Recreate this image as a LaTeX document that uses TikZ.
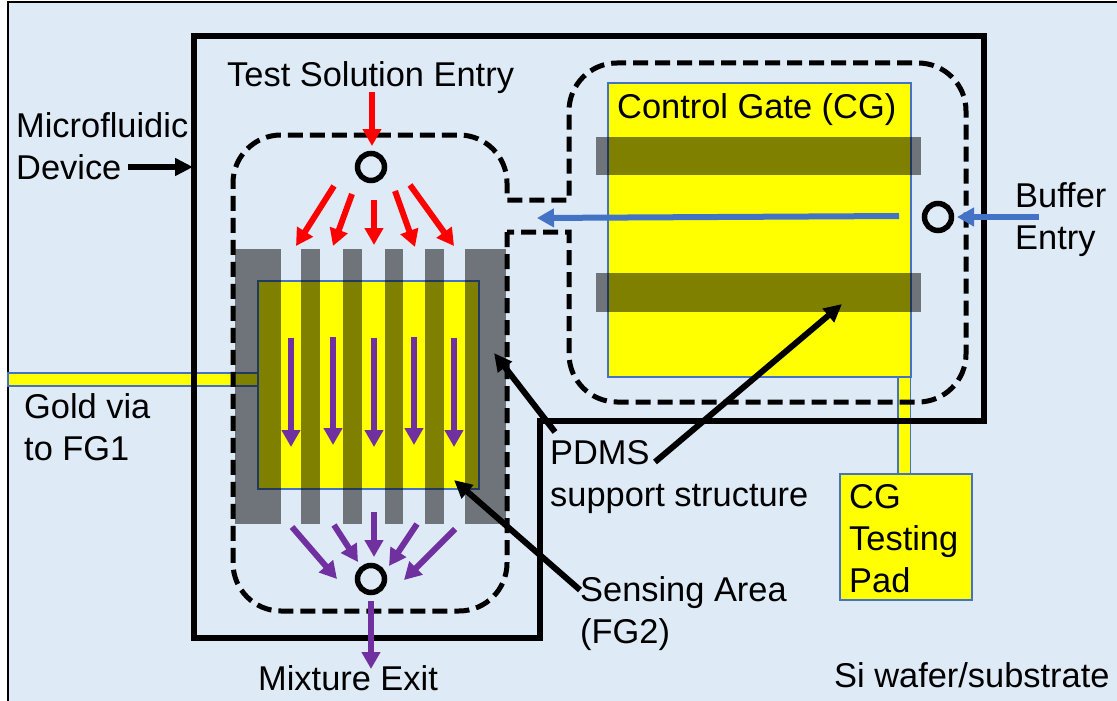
\documentclass[tikz,border=0pt]{standalone}
\usepackage{fontspec}
\setmainfont{Liberation Sans}
\usetikzlibrary{arrows.meta}
\definecolor{waferblue}{HTML}{DEEAF6}
\definecolor{edgeblue}{HTML}{4472C4}
\definecolor{flowpurple}{HTML}{7030A0}
\definecolor{goldfill}{HTML}{FFFF00}
\definecolor{redflow}{HTML}{FF0000}
\tikzset{
  label/.style = {anchor=base west, inner sep=0pt, align=left},
  gold/.style = {shape=rectangle, draw=edgeblue, line width=1.3pt, fill=goldfill,
    anchor=north west, inner sep=0pt, outer sep=0pt},
  pdms/.style = {fill=black, fill opacity=0.5},
  chamber/.style = {draw, line width=5pt, dash pattern=on 15pt off 7pt},
  port/.style = {shape=circle, draw, line width=5.5pt, minimum size=27pt, inner sep=0pt},
  flow/.style = {line width=6pt, -{Triangle[width=18pt,length=17pt]}},
  pointer/.style = {line width=6pt, black, -{Triangle[width=17pt,length=18pt]}}
}
\begin{document}
\begin{tikzpicture}[x=1pt, y=-1pt, font=\fontsize{34.4}{42}\selectfont]
    \useasboundingbox (0,0) rectangle (1117,701);
    \fill[waferblue] (8,2) rectangle (1117,701);
    \draw[line width=2.5pt] (8,701) -- (8,2) -- (1117,2);

    % gold layer
    \node[gold, minimum width=12.7pt, minimum height=103pt] (tongue) at (898,374) {};
    \node[gold, minimum width=303pt, minimum height=294pt] (cg) at (608,83) {};
    \node[gold, minimum width=250pt, minimum height=13pt] (via) at (8,373) {};
    \node[gold, minimum width=221pt, minimum height=208pt] (fg2) at (258,281) {};
    \node[gold, minimum width=132pt, minimum height=126pt] (pad) at (840,474) {};

    % PDMS bars
    \foreach \xa/\xb in {235/281, 301/320, 343/362, 385/403, 425/444, 465/506}
      \fill[pdms] (\xa,249) rectangle (\xb,524);
    \foreach \ya/\yb in {137/175, 273/312}
      \fill[pdms] (596,\ya) rectangle (921,\yb);

    % channel outline and device outline
    \path[chamber, rounded corners=48pt] (507,232) -- (507,611) -- (233,611) -- (233,135)
      -- (507,135) [sharp corners] -- (507,200) -- (569,200) [rounded corners=48pt] -- (569,63)
      -- (966,63) -- (966,402) -- (569,402) [sharp corners] -- (569,232) -- cycle;
    \draw[line width=6pt] (194,36) -- (984,36) -- (984,421) -- (540,421) -- (540,638)
      -- (194,638) -- cycle;

    \node[port] (inlet) at (371,167) {};
    \node[port] (outlet) at (371,579) {};
    \node[port] (buffer) at (938,217) {};

    % red flow
    \coordinate (ts) at (372,92);
    \coordinate (tsend) at (372,146);
    \path[flow, redflow] (ts) edge (tsend);
    \foreach \i/\xa/\ya/\xb/\yb in {1/334/186/296/246, 2/352/194/333/246, 3/374/200/374/245,
        4/395/191/415/247, 5/410/185/454/246} {
      \coordinate (r\i) at (\xa,\ya);
      \coordinate (rr\i) at (\xb,\yb);
      \path[flow, redflow] (r\i) edge (rr\i);
    }

    % purple flow
    \foreach \i/\xa/\ya/\xb/\yb in {1/291/338/291/447, 2/333/337/333/445, 3/374/338/374/447,
        4/414/337/414/445, 5/454/338/454/447,
        6/292/527/337/579, 7/334/525/358/562, 8/374/512/374/557, 9/417/524/389/566,
        10/455/529/404/580} {
      \coordinate (p\i) at (\xa,\ya);
      \coordinate (pp\i) at (\xb,\yb);
      \path[flow, flowpurple] (p\i) edge (pp\i);
    }
    \coordinate (mx) at (371,601);
    \coordinate (mxend) at (371,669);
    \path[flow, flowpurple] (mx) edge (mxend);

    % buffer flow
    \coordinate (bf) at (899,216);
    \coordinate (bfend) at (537,218);
    \coordinate (be) at (1039,217);
    \coordinate (beend) at (957,217);
    \path[flow, edgeblue] (bf) edge (bfend);
    \path[flow, edgeblue] (be) edge (beend);

    % pointers
    \coordinate (md) at (128,167);
    \coordinate (mdend) at (193,167);
    \coordinate (ps) at (555,432);
    \coordinate (psend) at (494,353);
    \coordinate (pt) at (655,462);
    \coordinate (ptend) at (842,304);
    \coordinate (sa) at (580,590);
    \coordinate (saend) at (454,480);
    \path[pointer] (md) edge (mdend);
    \path[pointer] (ps) edge (psend);
    \path[pointer] (pt) edge (ptend);
    \path[pointer] (sa) edge (saend);

    % labels
    \node[label] (lentry) at (227,86) {Test Solution Entry};
    \node[label] (ldevice) at (16,179) {Microfluidic\\Device};
    \node[label] (lcg) at (617,118) {Control Gate (CG)};
    \node[label] (lbuffer) at (1015,249) {Buffer\\Entry};
    \node[label] (lvia) at (24,460) {Gold via\\to FG1};
    \node[label] (lpdms) at (550,506) {PDMS\\support structure};
    \node[label] (lsense) at (580,643) {Sensing Area\\(FG2)};
    \node[label] (lpad) at (849,592) {CG\\Testing\\Pad};
    \node[label] (lexit) at (258,690) {Mixture Exit};
    \node[label] (lsi) at (834,687) {Si wafer/substrate};
  \end{tikzpicture}
\end{document}
